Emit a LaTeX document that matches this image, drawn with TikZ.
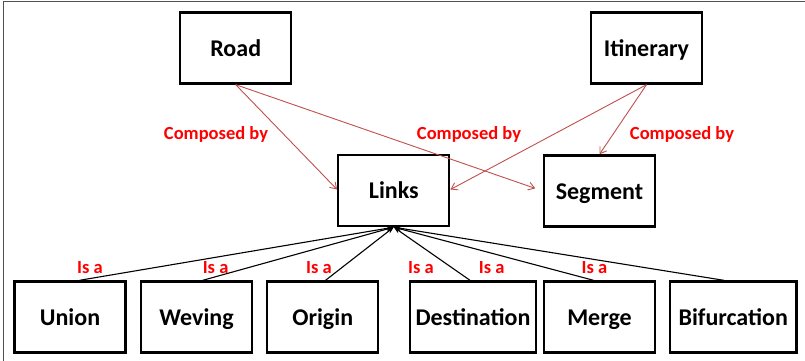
\documentclass[tikz,border=0pt]{standalone}
\usepackage{fontspec}
\setmainfont{Carlito}
\usetikzlibrary{arrows.meta,calc}

\definecolor{linkred}{HTML}{C0504D}
\definecolor{framegray}{HTML}{505050}

\tikzset{
  entity/.style={draw=black, line width=2.4pt, minimum width=111pt, minimum height=71pt,
    inner sep=0pt, text height=19pt, text depth=2pt,
    font=\fontsize{24}{28}\selectfont\bfseries},
  widebox/.style={entity, minimum width=126.5pt},
  relname/.style={text=red, inner sep=0pt, font=\fontsize{18.5}{22}\selectfont\bfseries},
  composes/.style={draw=linkred, line width=0.9pt, -{Straight Barb[length=6pt,width=8pt,line width=0.9pt]}},
  isa/.style={draw=black, line width=1.1pt, -{Stealth[length=7pt,width=5pt]}}
}

\begin{document}
\begin{tikzpicture}[x=1pt,y=1pt]
  \useasboundingbox (0,0) rectangle (805,361);
  % outer frame: top and left edges only
  \draw[framegray, line width=1.3pt] (3.5,0) -- (3.5,359.5) -- (805,359.5);

  % top level
  \node[entity] (road) at (235.75,313) {Road};
  \node[entity] (itin) at (646.5,313) {Itinerary};
  % middle level
  \node[entity] (links) at (393.75,170.5) {Links};
  \node[entity] (seg) at (599.5,170) {Segment};
  % bottom level
  \node[entity]   (union) at (70,44)     {Union};
  \node[entity]   (wev)   at (196.5,44)  {Weving};
  \node[entity]   (orig)  at (322.75,44) {Origin};
  \node[widebox]  (dest)  at (473,44)    {Destination};
  \node[entity]   (merge) at (599.5,44)  {Merge};
  \node[widebox]  (bif)   at (733.25,44) {Bifurcation};

  % composition links
  \draw[composes] (road.south) -- ($(links.west)+(0,1)$);
  \draw[composes, shorten >=8pt] (road.south) -- (seg.west);
  \draw[composes] (itin.south) -- ($(links.east)+(0,1)$);
  \draw[composes] (itin.south) -- (seg.north);

  % specialisation links
  \draw[isa] ([xshift=9.6pt]union.north) -- (links.south);
  \draw[isa] ([xshift=6.3pt]wev.north)   -- (links.south);
  \draw[isa] ([xshift=2.8pt]orig.north)  -- (links.south);
  \draw[isa] ([xshift=-3pt]dest.north)   -- (links.south);
  \draw[isa] ([xshift=-6pt]merge.north)  -- (links.south);
  \draw[isa] ([xshift=-9.5pt]bif.north)  -- (links.south);

  % relation names
  \node[relname] (c1) at (216,227) {Composed by};
  \node[relname] (c2) at (469,227) {Composed by};
  \node[relname] (c3) at (682,227) {Composed by};
  \node[relname] (i1) at (90,93.5)    {Is a};
  \node[relname] (i2) at (215.6,93.5) {Is a};
  \node[relname] (i3) at (319,93.5)   {Is a};
  \node[relname] (i4) at (421,93.5)   {Is a};
  \node[relname] (i5) at (491.8,93.5) {Is a};
  \node[relname] (i6) at (594.5,93.5) {Is a};
\end{tikzpicture}
\end{document}
